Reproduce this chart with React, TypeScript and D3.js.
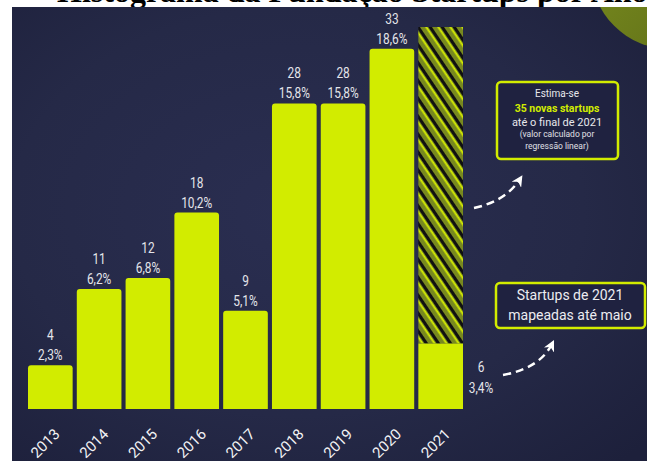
import React from "react";
import * as d3 from "d3";

const years = ["2013", "2014", "2015", "2016", "2017", "2018", "2019", "2020", "2021"];
const counts = [4, 11, 12, 18, 9, 28, 28, 33, 6];
const percents = ["2,3%", "6,2%", "6,8%", "10,2%", "5,1%", "15,8%", "15,8%", "18,6%", "3,4%"];
const estimate2021 = 35;
const titleText = "Histograma da Fundação Startups por Ano";
const noteEstimate = ["Estima-se", "35 novas startups", "até o final de 2021", "(valor calculado por", "regressão linear)"];
const noteMapped = ["Startups de 2021", "mapeadas até maio"];

const W = 647;
const H = 461;
const LIME = "#d2ec00";
const LABEL = "#e4e5ea";

function topRounded(x: number, y: number, w: number, h: number, r: number) {
  return `M${x},${y + h}V${y + r}Q${x},${y} ${x + r},${y}H${x + w - r}Q${x + w},${y} ${x + w},${y + r}V${y + h}Z`;
}

export default function App() {
  const x = d3.scaleBand<string>().domain(years).range([28, 463]).paddingInner(0.085).paddingOuter(0);
  const y = d3.scaleLinear().domain([0, estimate2021]).range([409, 27]);
  const bw = x.bandwidth();
  const last = years.length - 1;

  const curve1 = d3.path();
  curve1.moveTo(474, 208);
  curve1.quadraticCurveTo(506, 201, 520, 179);
  const curve2 = d3.path();
  curve2.moveTo(503, 375);
  curve2.quadraticCurveTo(540, 368, 552, 344);

  const cond = "Roboto, 'Noto Sans', sans-serif";

  return (
    <svg width={W} height={H} style={{ position: "absolute", left: 0, top: 0 }} xmlns="http://www.w3.org/2000/svg">
      <defs>
        <radialGradient id="bg" cx="0.45" cy="0.45" r="0.75">
          <stop offset="0" stopColor="#2a2e51" />
          <stop offset="0.6" stopColor="#252947" />
          <stop offset="1" stopColor="#1d203b" />
        </radialGradient>
        <linearGradient id="olive" x1="0" y1="0" x2="1" y2="1">
          <stop offset="0" stopColor="#7f9220" />
          <stop offset="1" stopColor="#5c6b17" />
        </linearGradient>
        <pattern id="hatch" width="10" height="10" patternUnits="userSpaceOnUse" patternTransform="rotate(-34)">
          <rect x="0" y="0" width="10" height="10" fill="#78891f" />
          <rect x="0" y="0" width="3" height="10" fill="#101010" />
          <rect x="7.4" y="0" width="1.6" height="10" fill="#d8f000" />
        </pattern>
        <marker id="arrow" viewBox="0 0 10 10" refX="6" refY="5" markerWidth="4.5" markerHeight="4.5" orient="auto">
          <path d="M0,0L10,5L0,10L3,5Z" fill="#ffffff" />
        </marker>
        <clipPath id="clipbg">
          <rect x={12} y={7} width={W - 12} height={H - 7} />
        </clipPath>
      </defs>
      <rect x={0} y={0} width={W} height={H} fill="#ffffff" />
      <text x={57} y={2} fontFamily="'Liberation Serif', 'Times New Roman', serif" fontWeight="bold" fontSize={32} fill="#000">
        {titleText}
      </text>
      <rect x={12} y={7} width={W - 12} height={H - 7} fill="url(#bg)" />
      <circle cx={670} cy={-30} r={79} fill="url(#olive)" clipPath="url(#clipbg)" />

      {/* hatched estimate bar */}
      <rect x={x(years[last])!} y={y(estimate2021)} width={bw} height={y(counts[last]) - y(estimate2021)} fill="url(#hatch)" />

      {years.map((yr, i) => {
        const bx = x(yr)!;
        const by = y(counts[i]);
        const cx = bx + bw / 2;
        const isLast = i === last;
        const lx = isLast ? bx + bw + 18 : cx;
        const ly1 = isLast ? by + 28 : by - 25;
        const ly2 = isLast ? by + 49 : by - 5;
        return (
          <g key={yr}>
            <path d={isLast ? `M${bx},${y(0)}V${by}H${bx + bw}V${y(0)}Z` : topRounded(bx, by, bw, y(0) - by, 3)} fill={LIME} />
            <g transform={`translate(${lx},${ly1}) scale(0.85,1)`}>
              <text textAnchor="middle" fontFamily={cond} fontSize={14} fill={LABEL}>{counts[i]}</text>
            </g>
            <g transform={`translate(${lx},${ly2}) scale(0.85,1)`}>
              <text textAnchor="middle" fontFamily={cond} fontSize={14} fill={LABEL}>{percents[i]}</text>
            </g>
            <text
              transform={`translate(${cx - 1.5},${447}) rotate(-45)`}
              textAnchor="middle"
              fontFamily={cond}
              fontSize={15}
              fill="#f2f2f4"
            >
              {yr}
            </text>
          </g>
        );
      })}

      {/* annotation 1 */}
      <rect x={497} y={82} width={121} height={77} rx={4} fill="#1f2240" stroke={LIME} strokeWidth={2.5} />
      <text x={557} y={97} textAnchor="middle" fontFamily={cond} fontSize={10} fill="#e8e8ec">{noteEstimate[0]}</text>
      <text x={557} y={112} textAnchor="middle" fontFamily={cond} fontSize={10.5} fontWeight="bold" fill={LIME}>{noteEstimate[1]}</text>
      <text x={557} y={126} textAnchor="middle" fontFamily={cond} fontSize={11} fill="#e8e8ec">{noteEstimate[2]}</text>
      <text x={557} y={137} textAnchor="middle" fontFamily={cond} fontSize={8.5} fill="#e0e0e6">{noteEstimate[3]}</text>
      <text x={557} y={149} textAnchor="middle" fontFamily={cond} fontSize={8.5} fill="#e0e0e6">{noteEstimate[4]}</text>
      <path d={curve1.toString()} fill="none" stroke="#ffffff" strokeWidth={2.5} strokeDasharray="8,5" markerEnd="url(#arrow)" />

      {/* annotation 2 */}
      <rect x={496} y={283} width={149} height={45} rx={4} fill="#1f2240" stroke={LIME} strokeWidth={2.5} />
      <text x={570} y={300} textAnchor="middle" fontFamily={cond} fontSize={14} fill="#ececf0">{noteMapped[0]}</text>
      <text x={570} y={320} textAnchor="middle" fontFamily={cond} fontSize={14} fill="#ececf0">{noteMapped[1]}</text>
      <path d={curve2.toString()} fill="none" stroke="#ffffff" strokeWidth={2.5} strokeDasharray="8,5" markerEnd="url(#arrow)" />
    </svg>
  );
}
